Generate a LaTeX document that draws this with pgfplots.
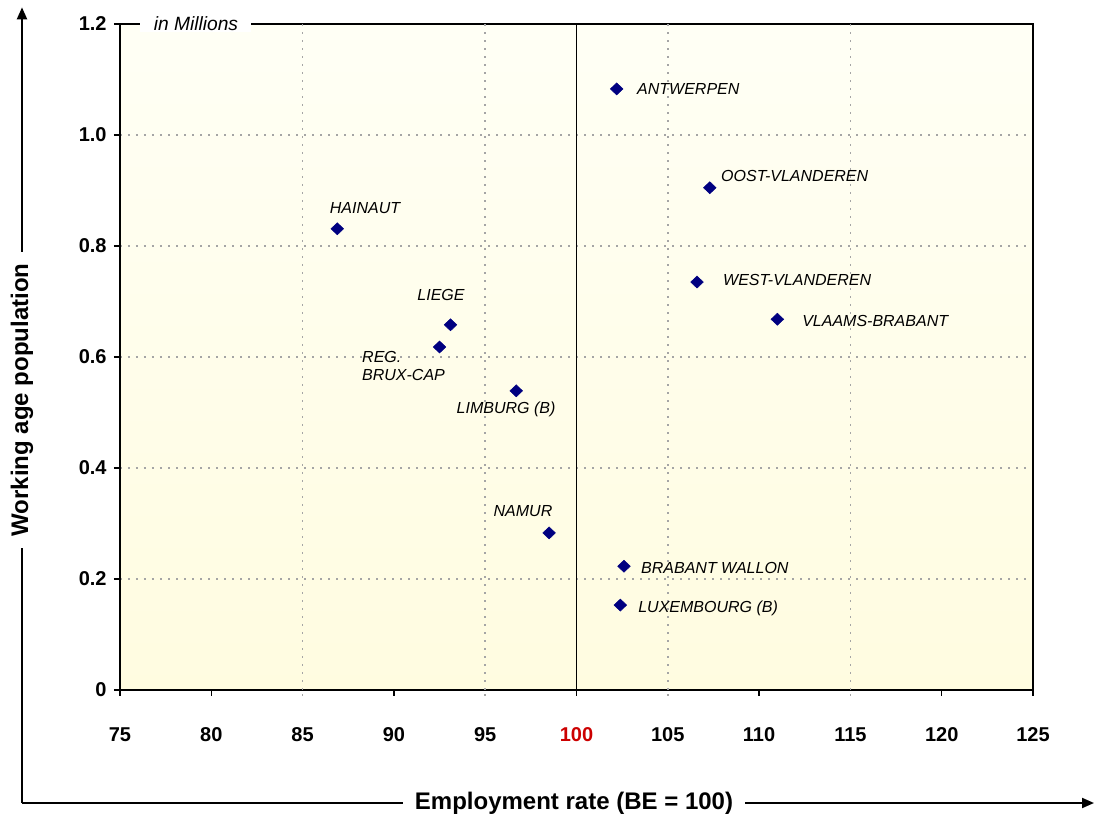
\documentclass[border=0pt]{standalone}
\usepackage{pgfplots}
\pgfplotsset{compat=1.18}
\usepackage{fontspec}
\setmainfont{Liberation Sans}
\usetikzlibrary{arrows.meta}

\definecolor{ptnavy}{RGB}{0,0,128}
\definecolor{tickred}{RGB}{204,0,0}
\definecolor{bgtop}{RGB}{255,255,245}
\definecolor{bgbot}{RGB}{255,252,224}
\definecolor{gridgray}{RGB}{165,165,165}

\begin{document}
\begin{tikzpicture}
\begin{axis}[
    at={(0,0)}, anchor=south west,
    width=684.75pt, height=499.5pt,
    scale only axis,
    xmin=75, xmax=125,
    ymin=0, ymax=1.2,
    axis line style={black, line width=1.2pt},
    axis background/.style={top color=bgtop, bottom color=bgbot},
    tick pos=left,
    tick align=outside,
    major tick length=4.5pt,
    major tick style={black, line width=1pt},
    xtick={75,80,90,100,110,120,125},
    xticklabels={75,80,90,\textcolor{tickred}{100},110,120,125},
    extra x ticks={85,95,105,115},
    extra x tick labels={85,95,105,115},
    extra x tick style={xmajorgrids=true,
        major tick style={gridgray, line width=1.2pt, dash pattern=on 1.5pt off 4.5pt}},
    ytick={0,0.2,...,1.2},
    yticklabels={0,0.2,0.4,0.6,0.8,1.0,1.2},
    ymajorgrids=true,
    major grid style={gridgray, line width=1.2pt, dash pattern=on 1.5pt off 4.5pt},
    ticklabel style={font=\bfseries\fontsize{15}{17}\selectfont},
    xticklabel style={yshift=-20pt},
    yticklabel style={xshift=-2pt},
    clip=false,
]

\draw[black, line width=1.1pt] (axis cs:100,0) -- (axis cs:100,1.2);

\addplot[only marks, mark=diamond*, mark size=4.5pt,
    mark options={xscale=1.4, fill=ptnavy, draw=ptnavy}] coordinates {
    (102.2,1.083) (107.3,0.905) (86.9,0.831) (106.6,0.735)
    (111.0,0.668) (93.1,0.658) (92.5,0.618) (96.7,0.539)
    (98.5,0.283) (102.6,0.223) (102.4,0.153)
};

\begin{scope}[every node/.style={inner sep=0pt, font=\itshape\fontsize{12}{14}\selectfont}]
\node[anchor=west] at (axis cs:103.31,1.083) {ANTWERPEN};
\node[anchor=west] at (axis cs:107.91,0.926) {OOST-VLANDEREN};
\node at (axis cs:88.42,0.868) {HAINAUT};
\node[anchor=west] at (axis cs:108.02,0.739) {WEST-VLANDEREN};
\node[anchor=west] at (axis cs:112.35,0.665) {VLAAMS-BRABANT};
\node at (axis cs:92.58,0.712) {LIEGE};
\node[anchor=west, align=left] at (axis cs:88.25,0.584) {REG.\\BRUX-CAP};
\node at (axis cs:96.14,0.505) {LIMBURG (B)};
\node at (axis cs:97.07,0.3225) {NAMUR};
\node[anchor=west] at (axis cs:103.53,0.2198) {BRABANT WALLON};
\node[anchor=west] at (axis cs:103.37,0.1477) {LUXEMBOURG (B)};
\end{scope}

\node[fill=white, inner xsep=10pt, inner ysep=1pt,
    font=\itshape\fontsize{14.4}{16}\selectfont] at (rel axis cs:0.0832,1) {in Millions};
\end{axis}

% outer arrows with axis titles
\draw[line width=1.5pt, -{Triangle[length=9pt, width=7.5pt]}]
    (-73.5pt,-84.75pt) -- (-73.5pt,512pt);
\draw[line width=1.5pt, -{Triangle[length=9pt, width=7.5pt]}]
    (-73.5pt,-84.75pt) -- (730.5pt,-84.75pt);
\node[fill=white, inner xsep=9pt, inner ysep=2pt,
    font=\bfseries\fontsize{18}{20}\selectfont] at (340.5pt,-84.75pt)
    {Employment rate (BE = 100)};
\node[fill=white, rotate=90, inner xsep=9pt, inner ysep=2pt,
    font=\bfseries\fontsize{18}{20}\selectfont] at (-73.5pt,217.5pt)
    {Working age population};

\pgfresetboundingbox
\path[use as bounding box] (-90pt,-97.5pt) rectangle (731.25pt,517.5pt);
\end{tikzpicture}
\end{document}
